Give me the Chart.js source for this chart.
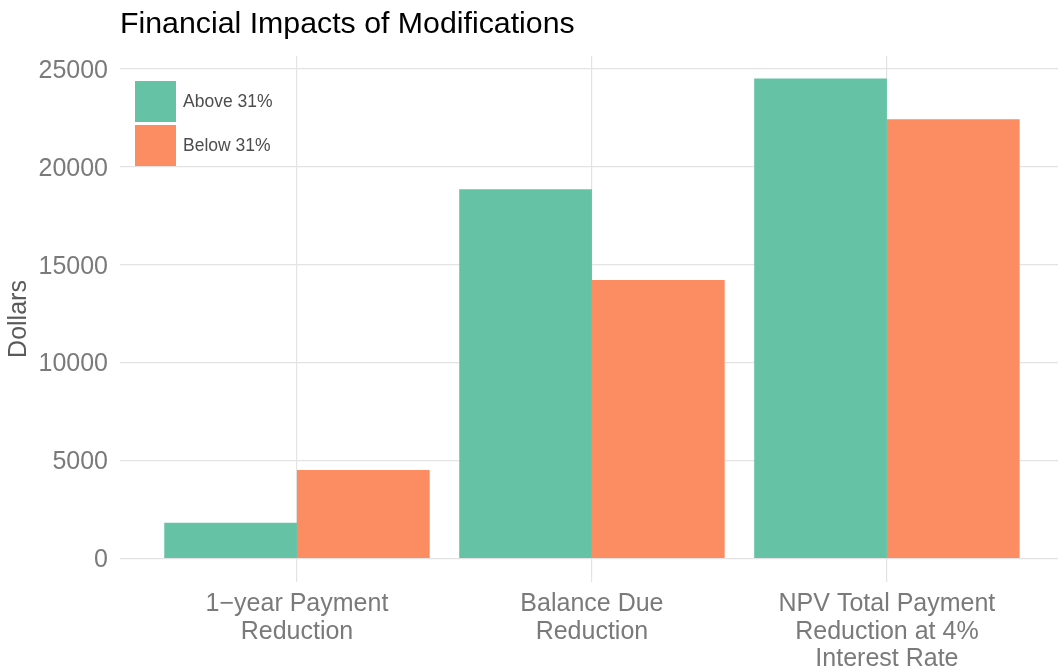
<!DOCTYPE html>
<html>
<head>
<meta charset="utf-8">
<script src="https://cdn.jsdelivr.net/npm/chart.js@4/dist/chart.umd.min.js"></script>
<style>
  html, body { margin: 0; padding: 0; background: #ffffff; overflow: hidden; }
  canvas { display: block; }
</style>
</head>
<body>
<canvas id="c" width="1058" height="671"></canvas>
<script>
// ---- data ----
const chartTitle = 'Financial Impacts of Modifications';
const yTitle = 'Dollars';
const categories = [
  ['1\u2212year Payment', 'Reduction'],
  ['Balance Due', 'Reduction'],
  ['NPV Total Payment', 'Reduction at 4%', 'Interest Rate']
];
const seriesNames = ['Above 31%', 'Below 31%'];
const aboveValues = [1820, 18850, 24500];
const belowValues = [4520, 14210, 22420];
const yTicks = [0, 5000, 10000, 15000, 20000, 25000];
const seriesColors = ['#66c2a5', '#fc8d62'];

const FONT = "'Liberation Sans', Arial, Helvetica, sans-serif";
const xPositions = categories.map((_, i) => i + 1);

const toPoints = vals => vals.map((v, i) => ({ x: xPositions[i], y: v }));

const overlayPlugin = {
  id: 'overlay',
  afterDraw(chart) {
    const ctx = chart.ctx;
    const area = chart.chartArea;
    ctx.save();
    // title
    ctx.fillStyle = '#000000';
    ctx.font = '30.3px ' + FONT;
    ctx.textAlign = 'left';
    ctx.textBaseline = 'alphabetic';
    ctx.fillText(chartTitle, area.left, 32.5);
    // legend
    const keyX = 135, keyY = [81, 125], keyW = 41, keyH = 41;
    ctx.font = '17.5px ' + FONT;
    ctx.textBaseline = 'middle';
    chart.data.datasets.forEach((ds, i) => {
      ctx.fillStyle = ds.backgroundColor;
      ctx.fillRect(keyX, keyY[i], keyW, keyH);
      ctx.fillStyle = '#4d4d4d';
      ctx.fillText(ds.label, 183, keyY[i] + keyH / 2 + 1);
    });
    ctx.restore();
  }
};

new Chart(document.getElementById('c'), {
  type: 'bar',
  data: {
    datasets: [
      { label: seriesNames[0], data: toPoints(aboveValues), backgroundColor: seriesColors[0], borderWidth: 0 },
      { label: seriesNames[1], data: toPoints(belowValues), backgroundColor: seriesColors[1], borderWidth: 0 }
    ]
  },
  options: {
    responsive: false,
    animation: false,
    devicePixelRatio: 1,
    layout: { padding: { top: 56, left: 0, right: 0, bottom: 0 } },
    datasets: { bar: { categoryPercentage: 0.9, barPercentage: 1.0 } },
    plugins: {
      legend: { display: false },
      title: { display: false },
      tooltip: { enabled: false }
    },
    scales: {
      x: {
        type: 'linear',
        offset: false,
        min: 0.4,
        max: 3.58,
        afterBuildTicks: s => { s.ticks = xPositions.map(v => ({ value: v })); },
        afterFit: s => { s.height = 89; },
        grid: { color: '#e3e3e3', lineWidth: 1.2, drawTicks: false, offset: false },
        border: { display: false },
        ticks: {
          padding: 8,
          color: '#7a7a7a',
          font: { family: FONT, size: 25, lineHeight: 1.11 },
          maxRotation: 0,
          autoSkip: false,
          callback: (v, i) => categories[i]
        }
      },
      y: {
        min: -1200,
        max: 25650,
        afterBuildTicks: s => { s.ticks = yTicks.map(v => ({ value: v })); },
        afterFit: s => { s.width = 120; },
        grid: { color: '#e3e3e3', lineWidth: 1.2, drawTicks: false },
        border: { display: false },
        ticks: {
          padding: 12,
          labelOffset: 2,
          color: '#7a7a7a',
          font: { family: FONT, size: 25 },
          callback: v => String(v)
        },
        title: {
          display: true,
          text: yTitle,
          color: '#5a5a5a',
          font: { family: FONT, size: 25, lineHeight: 1.2 },
          padding: { top: 4, bottom: 0 }
        }
      }
    }
  },
  plugins: [overlayPlugin]
});
</script>
</body>
</html>
